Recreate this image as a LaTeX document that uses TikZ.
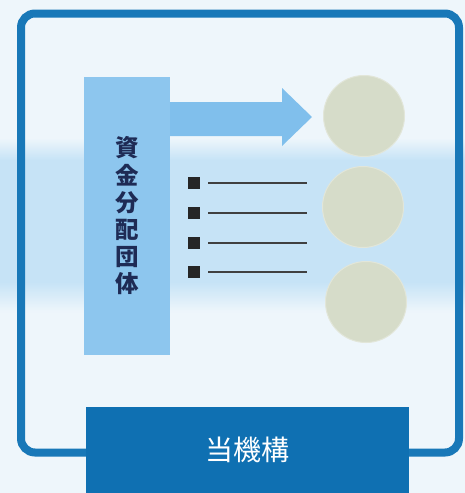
\documentclass[tikz,border=0pt]{standalone}
\usepackage{fontspec}
\newfontfamily\cjk{Noto Sans CJK JP}
\usepackage{tikz}
\usetikzlibrary{arrows.meta}
\usetikzlibrary{calc}
\usetikzlibrary{shapes}

\definecolor{framecol}{HTML}{1878B8}
\definecolor{boxcol}{HTML}{0F70B2}
\definecolor{barcol}{HTML}{8DC6EE}
\definecolor{arrowcol}{HTML}{80BFEC}
\definecolor{bandcol}{HTML}{C6E3F6}
\definecolor{paper}{HTML}{EEF6FB}
\definecolor{coincol}{HTML}{D6DCC9}
\definecolor{inkcol}{HTML}{1E2B55}

\begin{document}
\begin{tikzpicture}[x=1pt, y=-1pt,
        frame_style/.style={draw=framecol, line width=8pt, rounded corners=14pt},
        bar_style/.style={rectangle, fill=barcol, inner sep=0pt, minimum width=86pt, minimum height=278pt, text=inkcol, align=center, font=\cjk\bfseries\fontsize{23.5}{27.2}\selectfont},
        arrow_style/.style={fill=arrowcol},
        bullet_style/.style={rectangle, fill=black!85, inner sep=0pt, minimum size=12pt},
        line_style/.style={draw=black!75, line width=1.8pt, shorten <=8pt},
        coin_style/.style={circle, fill=coincol, draw=coincol!70!white, line width=1pt, inner sep=0pt, minimum size=81pt},
        box_style/.style={rectangle, fill=boxcol, inner sep=0pt, minimum width=323pt, minimum height=87pt, text=white, font=\cjk\fontsize{28}{32}\selectfont}]

        \useasboundingbox (0,0) rectangle (465,493);
        % background with the light blue band
        \fill [paper] (0,0) rectangle (465,493);
        \foreach \i [evaluate=\i as \p using int(100*\i/22)] in {0,...,21}
            \fill [bandcol!\p!paper] (0,138+\i) rectangle (465,139.5+\i);
        \fill [bandcol] (0,160) rectangle (465,282);
        \foreach \i [evaluate=\i as \p using int(100-100*\i/30)] in {0,...,29}
            \fill [bandcol!\p!paper] (0,282+\i) rectangle (465,283.5+\i);

        \draw [frame_style] (21,13.5) rectangle (459,452.5);

        \node [bar_style](fund) at (127,216) {資\\金\\分\\配\\団\\体};
        \fill [arrow_style] (fund.east |- 0,102) -- (282,102) -- (282,88) -- (312,117)
              -- (282,146) -- (282,136) -- (fund.east |- 0,136) -- cycle;

        \node [bullet_style](b1) at (194,183) {};
        \node [bullet_style](b2) at (194,213) {};
        \node [bullet_style](b3) at (194,243) {};
        \node [bullet_style](b4) at (194,272) {};
        \coordinate (e1) at (307,183);
        \coordinate (e2) at (307,213);
        \coordinate (e3) at (307,243);
        \coordinate (e4) at (307,272);
        \draw [line_style] (b1) -- (e1);
        \draw [line_style] (b2) -- (e2);
        \draw [line_style] (b3) -- (e3);
        \draw [line_style] (b4) -- (e4);

        \node [coin_style](c1) at (364,116) {};
        \node [coin_style](c2) at (363,207) {};
        \node [coin_style](c3) at (366,302) {};

        \node [box_style](org) at (247.5,450) {当機構};
\end{tikzpicture}
\end{document}
